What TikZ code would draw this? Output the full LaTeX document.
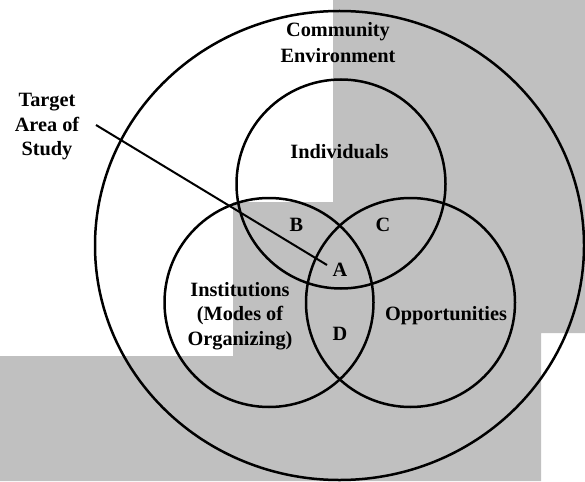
\documentclass[tikz,border=0pt]{standalone}
\usepackage{fontspec}
\setmainfont{Liberation Serif}
\usetikzlibrary{shapes.geometric}
\definecolor{bggray}{RGB}{192,192,192}
\tikzset{
  ring/.style={draw=black, circle, line width=2.5pt, inner sep=0pt, minimum size=209pt},
  lbl/.style={font=\fontsize{20.3}{24.5}\selectfont\bfseries, align=center, inner sep=0pt, anchor=base},
  pointer/.style={draw=black, line width=2pt}
}
\begin{document}
\begin{tikzpicture}[x=1pt, y=-1pt]
\useasboundingbox (0,0) rectangle (585,481);
\fill[bggray] (333,0) -- (585,0) -- (585,333) -- (541,333) -- (541,481) -- (0,481) -- (0,356) -- (233,356) -- (233,202) -- (333,202) -- cycle;
\node[draw=black, ellipse, line width=2.5pt, inner sep=0pt, minimum width=489pt, minimum height=469pt] (env) at (339.5,245.5) {};
\node[ring] (ind) at (341,184) {};
\node[ring] (ins) at (269,302.5) {};
\node[ring] (opp) at (410.5,302.5) {};
\node[lbl, font=\fontsize{20.3}{26}\selectfont\bfseries] (envt) at (338,63) {Community\\Environment};
\node[lbl, font=\fontsize{20.3}{24}\selectfont\bfseries] (tgt) at (47,155) {Target\\Area of\\Study};
\node[lbl] (indt) at (339.5,158) {Individuals};
\node[lbl] (inst) at (240,345) {Institutions\\(Modes of\\Organizing)};
\node[lbl] (oppt) at (446,320) {Opportunities};
\node[lbl] (b) at (296.5,231.5) {B};
\node[lbl] (c) at (383,231.5) {C};
\node[lbl] (a) at (340,276.5) {A};
\node[lbl] (d) at (340,340.5) {D};
\coordinate (ls) at (96,125);
\coordinate (le) at (327,265);
\draw[pointer] (ls) -- (le);
\end{tikzpicture}
\end{document}
